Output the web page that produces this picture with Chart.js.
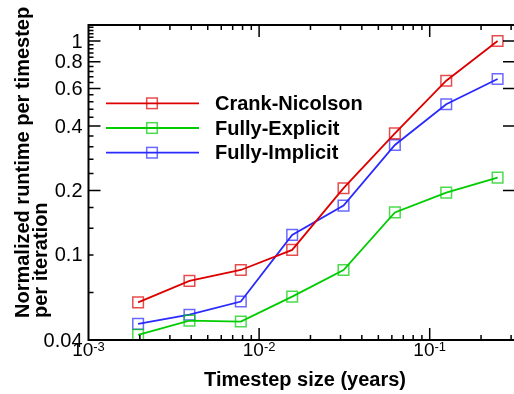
<!DOCTYPE html>
<html lang="en">
<head>
    <meta charset="UTF-8">
    <title>Normalized runtime vs timestep size</title>
    <script src="https://cdn.jsdelivr.net/npm/chart.js"></script>
    <style>
        html, body { margin: 0; padding: 0; background: #fff; overflow: hidden; }
        canvas { display: block; }
    </style>
</head>
<body>
    <canvas id="grafico" width="524" height="394"></canvas>

    <script>
        // timestep sizes (years) and normalized runtime per timestep per iteration
        const timesteps = [0.001953125, 0.00390625, 0.0078125, 0.015625, 0.03125, 0.0625, 0.125, 0.25];
        const crankNicolson = [0.060, 0.0756, 0.085, 0.1055, 0.205, 0.37, 0.652, 1.0];
        const fullyExplicit = [0.0423, 0.0493, 0.0488, 0.0638, 0.085, 0.158, 0.1955, 0.2297];
        const fullyImplicit = [0.0476, 0.0525, 0.0605, 0.124, 0.170, 0.3265, 0.506, 0.664];
        const seriesNames = ['Crank-Nicolson', 'Fully-Explicit', 'Fully-Implicit'];
        const yTickLabels = [0.04, 0.1, 0.2, 0.4, 0.6, 0.8, 1];
        const xTickExponents = [-3, -2, -1];

        const FONT = '"Liberation Sans", Arial, sans-serif';
        const colors = ['#dd0000', '#00cc00', '#2a2aff'];
        const markerColors = ['rgba(221,0,0,0.7)', 'rgba(0,204,0,0.7)', 'rgba(42,42,255,0.7)'];

        const toPoints = ys => timesteps.map((x, i) => ({ x: x, y: ys[i] }));

        function makeSet(label, ys, i) {
            return {
                label: label,
                data: toPoints(ys),
                borderColor: colors[i],
                borderWidth: 1.8,
                pointStyle: 'rect',
                pointRadius: 7.5,
                pointBorderWidth: 1.5,
                pointBorderColor: markerColors[i],
                pointBackgroundColor: 'rgba(0,0,0,0)',
                fill: false,
                tension: 0
            };
        }

        // frame, inward ticks, tick labels, titles and legend in the old tecplot look
        const decorations = {
            id: 'decorations',
            afterDatasetsDraw(chart) {
                const ctx = chart.ctx;
                const a = chart.chartArea;
                const xs = chart.scales.x, ys = chart.scales.y;
                ctx.save();
                ctx.strokeStyle = '#000';
                ctx.fillStyle = '#000';

                // y ticks
                const yMajor = [0.2, 0.4, 0.6, 0.8, 1];
                const yMinor = [0.0667, 0.1, 0.1333, 0.1667];
                for (let v = 0.24; v < 1.19; v += 0.04) {
                    if (!yMajor.some(m => Math.abs(m - v) < 0.005)) yMinor.push(v);
                }
                ctx.lineWidth = 1.5;
                ctx.beginPath();
                yMajor.forEach(v => {
                    const p = ys.getPixelForValue(v);
                    ctx.moveTo(a.left, p); ctx.lineTo(a.left + 12, p);
                    ctx.moveTo(a.right, p); ctx.lineTo(a.right - 12, p);
                });
                yMinor.forEach(v => {
                    const p = ys.getPixelForValue(v);
                    ctx.moveTo(a.left, p); ctx.lineTo(a.left + 5, p);
                });
                // x ticks
                for (let e = -3; e <= -1; e++) {
                    for (let k = 1; k <= 9; k++) {
                        const v = k * Math.pow(10, e);
                        if (v <= xs.min || v >= xs.max) continue;
                        const p = xs.getPixelForValue(v);
                        const len = k === 1 ? 12 : 5;
                        ctx.moveTo(p, a.bottom); ctx.lineTo(p, a.bottom - len);
                        ctx.moveTo(p, a.top); ctx.lineTo(p, a.top + len);
                    }
                }
                ctx.stroke();

                // frame
                ctx.lineWidth = 2;
                ctx.strokeRect(a.left, a.top, a.right - a.left, a.bottom - a.top);

                // y tick labels
                ctx.font = '20px ' + FONT;
                ctx.textAlign = 'right';
                ctx.textBaseline = 'middle';
                yTickLabels.forEach(v => {
                    ctx.fillText(String(v), a.left - 6, ys.getPixelForValue(v) + 1);
                });

                // x tick labels with superscript exponents
                ctx.textAlign = 'left';
                ctx.textBaseline = 'alphabetic';
                xTickExponents.forEach(e => {
                    const p = xs.getPixelForValue(Math.pow(10, e));
                    ctx.font = '19px ' + FONT;
                    const wb = ctx.measureText('10').width;
                    ctx.font = '13px ' + FONT;
                    const we = ctx.measureText(String(e)).width;
                    const x0 = p - (wb + we) / 2;
                    ctx.font = '19px ' + FONT;
                    ctx.fillText('10', x0, 356);
                    ctx.font = '13px ' + FONT;
                    ctx.fillText(String(e), x0 + wb, 351);
                });

                // axis titles
                ctx.font = 'bold 20px ' + FONT;
                ctx.textAlign = 'center';
                ctx.fillText('Timestep size (years)', 305, 386);
                ctx.save();
                ctx.rotate(-Math.PI / 2);
                ctx.textAlign = 'left';
                ctx.fillText('Normalized runtime per timestep', -318, 28.5);
                ctx.fillText('per iteration', -318, 47);
                ctx.restore();

                // legend
                chart.data.datasets.forEach((ds, i) => {
                    const y = 103.3 + i * 24.7;
                    ctx.strokeStyle = ds.borderColor;
                    ctx.lineWidth = 1.8;
                    ctx.beginPath();
                    ctx.moveTo(106, y); ctx.lineTo(199, y);
                    ctx.stroke();
                    ctx.lineWidth = 1.5;
                    ctx.strokeStyle = ds.pointBorderColor;
                    ctx.strokeRect(152 - 5.3, y - 5.3, 10.6, 10.6);
                    ctx.fillStyle = '#000';
                    ctx.font = 'bold 20px ' + FONT;
                    ctx.textAlign = 'left';
                    ctx.textBaseline = 'middle';
                    ctx.fillText(ds.label, 215, y + 1);
                });
                ctx.restore();
            }
        };

        const ctx = document.getElementById('grafico').getContext('2d');
        new Chart(ctx, {
            type: 'line',
            data: {
                datasets: [
                    makeSet(seriesNames[0], crankNicolson, 0),
                    makeSet(seriesNames[1], fullyExplicit, 1),
                    makeSet(seriesNames[2], fullyImplicit, 2)
                ]
            },
            options: {
                responsive: false,
                animation: false,
                devicePixelRatio: 1,
                layout: { padding: { left: 0, right: 4, top: 25, bottom: 0 } },
                plugins: {
                    legend: { display: false },
                    tooltip: { enabled: false }
                },
                scales: {
                    x: {
                        type: 'logarithmic',
                        min: 0.001,
                        max: 0.3162,
                        grid: { display: false },
                        border: { display: false },
                        ticks: { display: false },
                        afterFit: s => { s.height = 54; }
                    },
                    y: {
                        type: 'logarithmic',
                        min: 0.04,
                        max: 1.188,
                        grid: { display: false },
                        border: { display: false },
                        ticks: { display: false },
                        afterFit: s => { s.width = 88.5; }
                    }
                }
            },
            plugins: [decorations]
        });
    </script>
</body>
</html>
